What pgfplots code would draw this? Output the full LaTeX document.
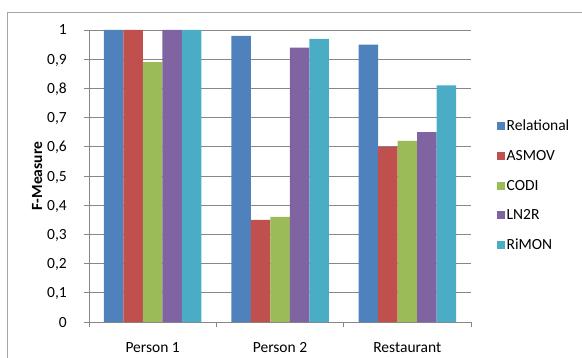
\documentclass[border=0pt]{standalone}
\usepackage{fontspec}
\setmainfont{Carlito}
\usepackage{pgfplots}
\pgfplotsset{compat=1.18}

\definecolor{cRel}{HTML}{4F81BD}
\definecolor{cAsm}{HTML}{C0504D}
\definecolor{cCod}{HTML}{9BBB59}
\definecolor{cLnr}{HTML}{8064A2}
\definecolor{cRim}{HTML}{4BACC6}
\definecolor{cGrid}{HTML}{878787}
\definecolor{cFrame}{HTML}{A6A6A6}

\begin{document}
\begin{tikzpicture}[font=\fontsize{15.5bp}{18bp}\selectfont]
\useasboundingbox (-89bp,-36bp) rectangle (493bp,322bp);
% chart area frame (top and left edges)
\draw[cFrame, line width=1bp] (-81bp,-40bp) -- (-81bp,309bp) -- (497bp,309bp);
\begin{axis}[
  at={(0,0)}, anchor=south west,
  scale only axis, width=382bp, height=292bp,
  ybar=0pt, bar width=19.5bp,
  xmin=-0.5, xmax=2.5, ymin=0, ymax=1,
  axis x line*=bottom, axis y line*=left,
  axis line style={cGrid, line width=0.8bp},
  xtick={0,1,2},
  xticklabels={Person 1, Person 2, Restaurant},
  minor xtick={-0.5,0.5,1.5,2.5},
  major x tick style={draw=none},
  minor x tick style={cGrid, line width=0.8bp},
  ytick={0,0.1,0.2,0.3,0.4,0.5,0.6,0.7,0.8,0.9,1},
  y tick style={cGrid, line width=0.8bp},
  tick align=outside,
  major tick length=5bp, minor tick length=5bp,
  ymajorgrids,
  grid style={cGrid, line width=0.8bp},
  /pgf/number format/assume math mode=true,
  yticklabel style={/pgf/number format/.cd, use comma, fixed, precision=1, /tikz/.cd,
    anchor=base east, inner sep=0pt, xshift=-17bp, yshift=-5bp},
  xticklabel style={anchor=base, inner sep=0pt, yshift=-25bp},
  ylabel={\bfseries F-Measure},
  ylabel style={at={(axis description cs:-0.136,0.5)}, anchor=center},
  legend style={draw=none, fill=none, at={(1.068,0.697)}, anchor=north west,
    inner sep=0pt, row sep=15bp, column sep=0pt,
    nodes={inner sep=1.5bp}, legend cell align=left},
  legend image code/.code={\fill[#1] (0bp,-4bp) rectangle (8bp,4bp);},
]
\addplot[fill=cRel, draw=none] coordinates {(0,1.00) (1,0.98) (2,0.95)};
\addplot[fill=cAsm, draw=none] coordinates {(0,1.00) (1,0.35) (2,0.60)};
\addplot[fill=cCod, draw=none] coordinates {(0,0.89) (1,0.36) (2,0.62)};
\addplot[fill=cLnr, draw=none] coordinates {(0,1.00) (1,0.94) (2,0.65)};
\addplot[fill=cRim, draw=none] coordinates {(0,1.00) (1,0.97) (2,0.81)};
\legend{Relational, ASMOV, CODI, LN2R, RiMON}
\end{axis}
\end{tikzpicture}
\end{document}
